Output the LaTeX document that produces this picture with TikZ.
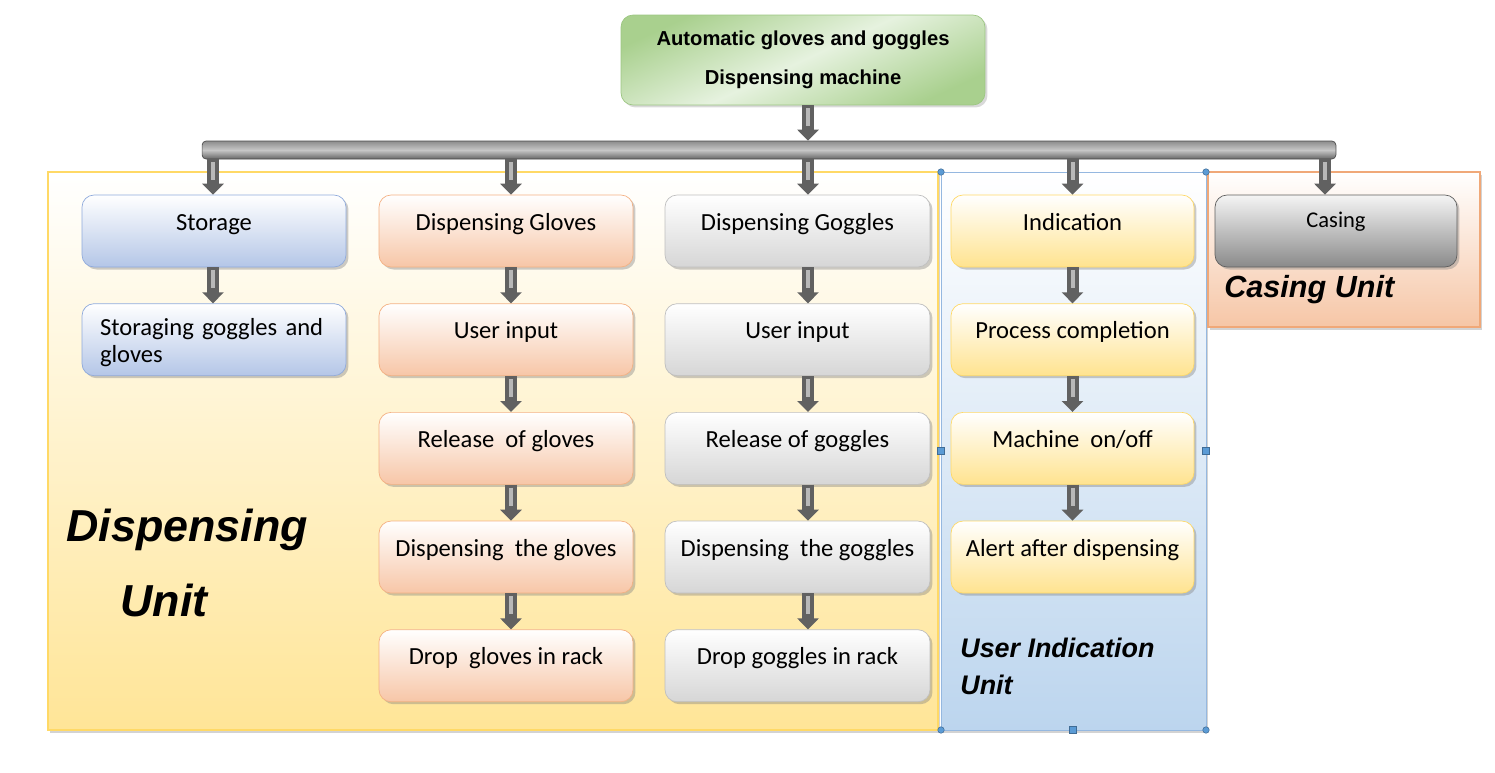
\documentclass[tikz,border=0pt]{standalone}
\usepackage{fontspec}
\setmainfont{Carlito}
\newfontfamily\headfont{Liberation Sans}
\usepackage{tikz}
\usetikzlibrary{arrows.meta}
\usetikzlibrary{positioning}
\usetikzlibrary{shadows}
\definecolor{storeline}{HTML}{8FAADC}
\definecolor{storefill}{HTML}{B4C6E7}
\definecolor{gloveline}{HTML}{F4B183}
\definecolor{glovefill}{HTML}{F7C6A7}
\definecolor{goggleline}{HTML}{BFBFBF}
\definecolor{gogglefill}{HTML}{D6D6D6}
\definecolor{indline}{HTML}{FFD966}
\definecolor{indfill}{HTML}{FFE38F}
\definecolor{caseline}{HTML}{5E5E5E}
\definecolor{casefill}{HTML}{8A8A8A}
\definecolor{topdark}{HTML}{A9D08E}
\definecolor{toplight}{HTML}{E6F2DF}
\definecolor{topline}{HTML}{9CC682}
\definecolor{dispfill}{HTML}{FFE597}
\definecolor{userline}{HTML}{95B8E0}
\definecolor{userfill}{HTML}{BCD5EE}
\definecolor{casingline}{HTML}{F0A878}
\definecolor{casingfill}{HTML}{F6C6A6}
\definecolor{handleblue}{HTML}{5B9BD5}
\tikzstyle{box}=[draw,rounded corners=0.24cm,minimum height=1.44cm,inner ysep=0pt,text height=0.7cm,text depth=0.74cm,font=\fontsize{14}{15.3}\selectfont,drop shadow={shadow xshift=0.05cm,shadow yshift=-0.05cm,opacity=0.4}]
\tikzstyle{unitname}=[anchor=west,inner sep=0pt,align=left]

\begin{document}
\begin{tikzpicture}[
  x=0.02cm,y=-0.02cm,
  storebox/.style={box,draw=storeline,top color=white,bottom color=storefill,minimum width=5.28cm},
  glovebox/.style={box,draw=gloveline,top color=white,bottom color=glovefill,minimum width=5.08cm},
  gogglebox/.style={box,draw=goggleline,top color=white,bottom color=gogglefill,minimum width=5.3cm},
  indbox/.style={box,draw=indline,top color=white,bottom color=indfill,minimum width=4.86cm},
  casebox/.style={box,draw=caseline,top color=black!4,bottom color=casefill,minimum width=4.84cm,font=\fontsize{12.8}{15}\selectfont,text height=0.64cm,text depth=0.8cm},
  flow/.style={line width=0.24cm,draw=black!62,-{Triangle[length=0.22cm,width=0.42cm]},
    postaction={draw=black!28,line width=0.08cm,-,shorten >=0.3cm,shorten <=0.06cm}},
  area/.style={line width=0.04cm,drop shadow={shadow xshift=0.04cm,shadow yshift=-0.05cm,opacity=0.35}},
  handle/.style={draw=handleblue!70!black,fill=handleblue,line width=0.3pt},
]
  % unit areas
  \draw[area,draw=indline,top color=white,bottom color=dispfill] (48,172) rectangle (938,730);
  \draw[area,draw=userline,top color=white,bottom color=userfill,line width=0.02cm] (941,172) rectangle (1206,730);
  \draw[area,draw=casingline,top color=white,bottom color=casingfill] (1208,172) rectangle (1480,327);

  % selection handles
  \foreach \x/\y in {941/172,1206/172,941/730,1206/730}
    \filldraw[handle] (\x,\y) circle (0.065cm);
  \foreach \x/\y in {1073/172,941/451,1206/451,1073/730}
    \filldraw[handle] (\x,\y) +(-3.5,-3.5) rectangle +(3.5,3.5);
  \filldraw[draw=green!50!black,fill=green!80!black,line width=0.3pt] (1073,150) circle (0.065cm);

  % title and bus
  \node[draw=topline,rounded corners=0.24cm,minimum width=7.28cm,minimum height=1.8cm,
        top color=topdark,bottom color=topdark,middle color=toplight,shading angle=25,
        align=center,font=\headfont\bfseries\fontsize{11.5}{22}\selectfont,
        drop shadow={shadow xshift=0.05cm,shadow yshift=-0.05cm,opacity=0.3}]
        (top) at (803,60) {Automatic gloves and goggles\\Dispensing machine};
  \node[draw=black!70,rounded corners=0.08cm,minimum width=22.68cm,minimum height=0.36cm,inner sep=0pt,
        top color=black!45,bottom color=black!60,middle color=black!22] (bus) at (769,150) {};

  % storage
  \node[storebox] (s1) at (214,231) {Storage};
  \node[storebox,below=0.72cm of s1,text width=4.56cm,align=left,text height=0.64cm,text depth=0.8cm] (s2) {Storaging goggles and\\gloves};

  % dispensing gloves
  \node[glovebox] (g1) at (506,231) {Dispensing Gloves};
  \node[glovebox,below=0.72cm of g1] (g2) {User input};
  \node[glovebox,below=0.72cm of g2] (g3) {Release~ of gloves};
  \node[glovebox,below=0.72cm of g3] (g4) {Dispensing~ the gloves};
  \node[glovebox,below=0.72cm of g4] (g5) {Drop~ gloves in rack};

  % dispensing goggles
  \node[gogglebox] (k1) at (797.5,231) {Dispensing Goggles};
  \node[gogglebox,below=0.72cm of k1] (k2) {User input};
  \node[gogglebox,below=0.72cm of k2] (k3) {Release of goggles};
  \node[gogglebox,below=0.72cm of k3] (k4) {Dispensing~ the goggles};
  \node[gogglebox,below=0.72cm of k4] (k5) {Drop goggles in rack};

  % indication
  \node[indbox] (i1) at (1072.5,231) {Indication};
  \node[indbox,below=0.72cm of i1] (i2) {Process completion};
  \node[indbox,below=0.72cm of i2] (i3) {Machine~ on/off};
  \node[indbox,below=0.72cm of i3] (i4) {Alert after dispensing};

  % casing
  \node[casebox] (c1) at (1336,231) {Casing};

  % unit names
  \node[unitname,font=\headfont\bfseries\itshape\fontsize{25.5}{43}\selectfont] (dispname) at (66,563) {Dispensing\\\hspace*{1.08cm}Unit};
  \node[unitname,font=\headfont\bfseries\itshape\fontsize{15.3}{21}\selectfont] (username) at (960,666.5) {User Indication\\Unit};
  \node[unitname,font=\headfont\bfseries\itshape\fontsize{17.4}{20}\selectfont] (casingname) at (1224,290) {Casing Unit};

  % connectors
  \coordinate (ttop) at ([xshift=0.1cm]top.south);
  \coordinate (stop) at ([xshift=-0.02cm]s1.north);
  \coordinate (gtop) at ([xshift=0.1cm]g1.north);
  \coordinate (ktop) at ([xshift=0.21cm]k1.north);
  \coordinate (itop) at (i1.north);
  \coordinate (ctop) at ([xshift=-0.22cm]c1.north);
  \draw[flow] (ttop) -- (ttop |- bus.north);
  \draw[flow] (stop |- bus.south) -- (stop);
  \draw[flow] (gtop |- bus.south) -- (gtop);
  \draw[flow] (ktop |- bus.south) -- (ktop);
  \draw[flow] (itop |- bus.south) -- (itop);
  \draw[flow] (ctop |- bus.south) -- (ctop);
  \draw[flow] ([xshift=-0.02cm]s1.south) -- ([xshift=-0.02cm]s2.north);
  \draw[flow] ([xshift=0.1cm]g1.south) -- ([xshift=0.1cm]g2.north);
  \draw[flow] ([xshift=0.1cm]g2.south) -- ([xshift=0.1cm]g3.north);
  \draw[flow] ([xshift=0.1cm]g3.south) -- ([xshift=0.1cm]g4.north);
  \draw[flow] ([xshift=0.1cm]g4.south) -- ([xshift=0.1cm]g5.north);
  \draw[flow] ([xshift=0.21cm]k1.south) -- ([xshift=0.21cm]k2.north);
  \draw[flow] ([xshift=0.21cm]k2.south) -- ([xshift=0.21cm]k3.north);
  \draw[flow] ([xshift=0.21cm]k3.south) -- ([xshift=0.21cm]k4.north);
  \draw[flow] ([xshift=0.21cm]k4.south) -- ([xshift=0.21cm]k5.north);
  \draw[flow] (i1) -- (i2);
  \draw[flow] (i2) -- (i3);
  \draw[flow] (i3) -- (i4);

  \useasboundingbox (0,0) rectangle (1495,772);
\end{tikzpicture}
\end{document}
